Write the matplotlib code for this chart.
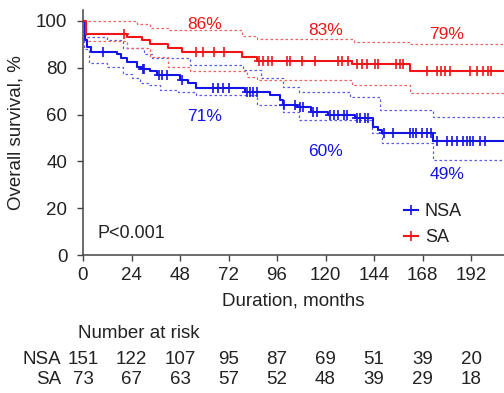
import numpy as np
import matplotlib
matplotlib.use("Agg")
from matplotlib import pyplot as plt
from matplotlib import transforms

plt.rcParams['font.family'] = ['Liberation Sans', 'DejaVu Sans']

# NSA (blue) Kaplan-Meier steps, months / survival %
nsa_t = [0, 1, 2, 4, 16.7, 19, 22, 26.6, 29, 33, 36.5, 48, 52, 56, 80, 92.6, 97.5, 99,
         106, 113, 121, 134.6, 143.7, 146, 148, 173.4]
nsa_s = [100, 92, 89, 86.9, 85.9, 84, 82.6, 80.5, 79.3, 78.6, 76.9, 74.8, 73.4, 71.2, 69.8,
         68.4, 66.2, 64.1, 63.4, 61.2, 59.8, 58.4, 54.8, 53.4, 52, 48.8]
nsa_cens = [10, 29.5, 30.4, 37.8, 39.3, 41.4, 49, 64.5, 67, 69.5, 72, 81, 82.7, 84, 86, 99.5,
            105, 107.4, 109, 114, 116, 122, 124, 126, 129, 130.5, 135.5, 137, 139.6, 141,
            148.7, 153.6, 162, 163.5, 165, 167.6, 170, 172, 175, 180, 182.5, 185, 188, 190,
            191.6, 193, 196.5, 199]
nsa_up_t = [0, 0.5, 1, 12, 20, 30, 34, 53, 79, 88, 99, 107, 132, 147, 173]
nsa_up_s = [100, 94.7, 93.3, 91.9, 88.3, 85.8, 84, 81.2, 79, 75.5, 71.6, 69.8, 67.7, 62, 58.8]
nsa_lo_t = [0, 0.5, 3, 12, 20, 24, 28, 32, 38, 47, 56, 86, 99, 107, 143, 148, 173]
nsa_lo_s = [100, 88, 81.9, 80.5, 77.5, 75.5, 73.4, 72.6, 70.5, 69.8, 68.4, 64.1, 61.2, 57.7,
            52, 47.7, 40.6]

# SA (red)
sa_t = [0, 1.5, 21.6, 29, 33, 42, 49, 78.5, 86, 133, 162]
sa_s = [100, 94.4, 93.3, 91.9, 90, 88.3, 86.6, 84.8, 83, 81.5, 78.8]
sa_cens = [20.5, 56, 59.4, 65, 70, 87, 89, 91.6, 93.6, 101, 102.5, 108.4, 115, 126, 128, 131,
           135.5, 138, 140.4, 144.5, 146, 155, 157, 158.4, 170, 175, 177, 179, 181.7, 191.6,
           195, 198, 200.5, 202]
sa_up_t = [0, 26.5, 33, 42, 78.5, 86, 134, 162]
sa_up_s = [100, 98.6, 96.9, 96.2, 93.5, 92.2, 90.9, 90]
sa_lo_t = [0, 1.5, 21.6, 33, 42, 53, 81, 86, 133, 162]
sa_lo_s = [100, 91.5, 88.3, 84.8, 80.5, 78.6, 76.2, 74.8, 72.6, 69.2]

# labels at 60/120/180 months
pct_x = [60, 120, 180]
sa_pct = ["86%", "83%", "79%"]
sa_pct_y = [98.7, 96.1, 94.4]
nsa_pct = ["71%", "60%", "49%"]
nsa_pct_y = [59.0, 44.4, 34.6]

risk_x = [0, 24, 48, 72, 96, 120, 144, 168, 192]
nsa_risk = [151, 122, 107, 95, 87, 69, 51, 39, 20]
sa_risk = [73, 67, 63, 57, 52, 48, 39, 29, 18]

XMAX = 208.3
blue = '#1414e6'
red = '#ee1616'
blue_ci = '#5a5af0'
red_ci = '#f26060'
txt = '#222222'
FS = 13.5


def ext(t, s):
    return list(t) + [XMAX], list(s) + [s[-1]]


def at(t, s, x):
    i = np.searchsorted(t, x, side='right') - 1
    return np.array(s)[i]


fig = plt.figure(figsize=(5.04, 3.93), dpi=100)
ax = fig.add_axes([83 / 504, 1 - 255 / 393, 1 - 83 / 504, 245 / 393])

for t, s, c in [(nsa_up_t, nsa_up_s, blue_ci), (nsa_lo_t, nsa_lo_s, blue_ci),
                (sa_up_t, sa_up_s, red_ci), (sa_lo_t, sa_lo_s, red_ci)]:
    xx, yy = ext(t, s)
    ax.step(xx, yy, where='post', color=c, lw=0.9, ls=(0, (2, 2)))

xx, yy = ext(nsa_t, nsa_s)
ax.step(xx, yy, where='post', color=blue, lw=1.5)
ax.plot(nsa_cens, at(nsa_t, nsa_s, nsa_cens), '+', color=blue, ms=6.5, mew=1.2)
xx, yy = ext(sa_t, sa_s)
ax.step(xx, yy, where='post', color=red, lw=1.5)
ax.plot(sa_cens, at(sa_t, sa_s, sa_cens), '+', color=red, ms=6.5, mew=1.2)

for x, l, y in zip(pct_x, sa_pct, sa_pct_y):
    ax.text(x, y, l, color=red, fontsize=12.5, ha='center', va='center')
for x, l, y in zip(pct_x, nsa_pct, nsa_pct_y):
    ax.text(x, y, l, color=blue, fontsize=12.5, ha='center', va='center')

ax.text(7.2, 9.4, "P<0.001", fontsize=13, color=txt, va='center', ha='left')

h1, = ax.plot([], [], color=blue, lw=1.5, marker='+', ms=6.5, mew=1.2)
h2, = ax.plot([], [], color=red, lw=1.5, marker='+', ms=6.5, mew=1.2)
ax.legend([h1, h2], ["NSA", "SA"], loc='upper left', bbox_to_anchor=(404 / 504, 1 - 203 / 393),
          bbox_transform=fig.transFigure, frameon=False, fontsize=13, handlelength=0.8,
          handletextpad=0.35, labelspacing=0.5, borderpad=0, borderaxespad=0, labelcolor=txt)

ax.set_xlim(0, XMAX)
ax.set_ylim(0, 104.7)
ax.set_xticks(risk_x)
ax.set_yticks([0, 20, 40, 60, 80, 100])
for side in ['top', 'right']:
    ax.spines[side].set_visible(False)
for side in ['left', 'bottom']:
    ax.spines[side].set_color('#444444')
    ax.spines[side].set_linewidth(1.1)
ax.tick_params(length=4.3, width=1, color='#444444', labelsize=FS, labelcolor=txt)
ax.tick_params(axis='x', pad=4)
ax.tick_params(axis='y', pad=7)
ax.set_xlabel("Duration, months", fontsize=FS, color=txt)
ax.xaxis.set_label_coords(0.5, -0.152)
ax.set_ylabel("Overall survival, %", fontsize=FS, color=txt)
ax.yaxis.set_label_coords(-0.138, 0.5)

# number at risk table
tr = transforms.blended_transform_factory(ax.transData, fig.transFigure)
fig.text(78 / 504, 1 - 333 / 393, "Number at risk", fontsize=FS, color=txt, va='center')
fig.text(61 / 504, 1 - 359 / 393, "NSA", fontsize=FS, color=txt, va='center', ha='right')
fig.text(61 / 504, 1 - 380 / 393, "SA", fontsize=FS, color=txt, va='center', ha='right')
for x, a, b in zip(risk_x, nsa_risk, sa_risk):
    ax.text(x, 1 - 359 / 393, str(a), transform=tr, fontsize=FS, color=txt, ha='center',
            va='center', clip_on=False)
    ax.text(x, 1 - 380 / 393, str(b), transform=tr, fontsize=FS, color=txt, ha='center',
            va='center', clip_on=False)

fig.savefig("out.png", dpi=100)
